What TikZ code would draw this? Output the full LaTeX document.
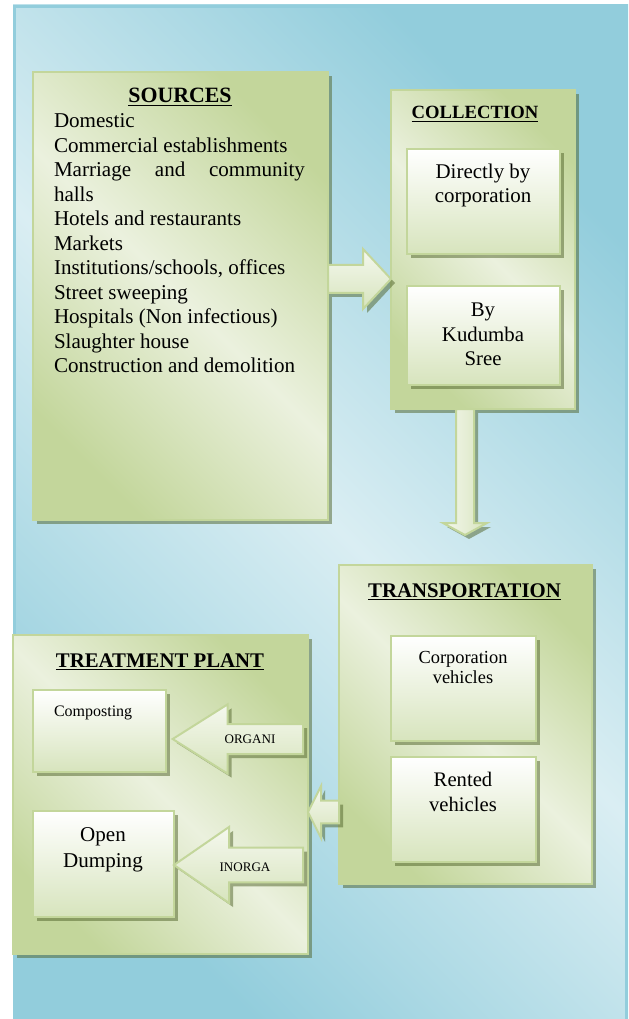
\documentclass[tikz,border=0pt]{standalone}
\usepackage{fontspec}
\setmainfont{Liberation Serif}
\usetikzlibrary{calc,shadows}

\definecolor{skylight}{HTML}{DAEEF3}
\definecolor{skydark}{HTML}{92CDDC}
\definecolor{leaflight}{HTML}{EBF1DE}
\definecolor{leafdark}{HTML}{C3D69B}
\definecolor{leafmid}{HTML}{D7E4BD}
\definecolor{leafshade}{HTML}{4F6228}

\newcommand{\ulhead}[1]{\setbox0\hbox{#1}\rlap{\rule[-2.4pt]{\wd0}{1.2pt}}\box0}

\begin{document}
\begin{tikzpicture}[
            x = 0.75pt, y = -0.75pt,
            every node/.style={inner sep=0pt, outer sep=0pt},
            shadowed/.style={drop shadow={shadow xshift=3pt, shadow yshift=-3pt, fill=leafshade, opacity=.5}},
            panel/.style={draw=leafdark, line width=1.5pt, shadowed, top color=leafdark, bottom color=leafdark, middle color=leaflight, shading angle=-45},
            card/.style={draw=leafdark, line width=1.5pt, shadowed, top color=white, bottom color=leafmid},
            flow/.style={draw=leafdark, line width=1.5pt, shadowed, top color=leaflight!50!white, bottom color=leafmid},
            fat/.style args={#1/#2/#3}{to path={let \p1=(\tikztostart), \p2=(\tikztotarget),
                \n1={atan2(\y2-\y1,\x2-\x1)}, \n2={veclen(\x2-\x1,\y2-\y1)} in
                ($(\p1)+(\n1+90:#1)$) -- ($(\p1)+(\n1:{\n2-#3})+(\n1+90:#1)$) -- ($(\p1)+(\n1:{\n2-#3})+(\n1+90:#2)$) -- (\p2)
                -- ($(\p1)+(\n1:{\n2-#3})+(\n1-90:#2)$) -- ($(\p1)+(\n1:{\n2-#3})+(\n1-90:#1)$) -- ($(\p1)+(\n1-90:#1)$) -- cycle}},
            title/.style={anchor=base, font=\fontsize{15.6}{18}\selectfont\bfseries},
            item/.style={anchor=base west, font=\fontsize{15.8}{18}\selectfont},
            txt/.style={anchor=base, align=center},
            ]

        \useasboundingbox (0,0) rectangle (628,1019);

        % background
        \shade[top color=skydark, bottom color=skydark, middle color=skylight, shading angle=-45] (13,5) rectangle (628,1019);
        \draw[skydark, line width=2.25pt] (14.5,1019) -- (14.5,6.5) -- (626.5,6.5) -- (626.5,1019);

        % panels
        \node[panel, minimum width=221.25pt, minimum height=336pt] (src) at (180.5,296) {};
        \node[panel, minimum width=138pt, minimum height=239.25pt] (col) at (483,249.5) {};
        \node[panel, minimum width=189.75pt, minimum height=239.25pt] (trn) at (465.5,724.5) {};
        \node[panel, minimum width=221.25pt, minimum height=239.25pt] (trt) at (160.5,794.5) {};

        % inner boxes
        \node[card, minimum width=114.75pt, minimum height=78.75pt] (dir) at (483.5,201.5) {};
        \node[card, minimum width=114.75pt, minimum height=74.25pt] (kud) at (483.5,335.5) {};
        \node[card, minimum width=108.75pt, minimum height=78.75pt] (cor) at (463.5,688.5) {};
        \node[card, minimum width=108.75pt, minimum height=78.75pt] (ren) at (463.5,809.5) {};
        \node[card, minimum width=99.75pt, minimum height=61.5pt] (cmp) at (99.5,731) {};
        \node[card, minimum width=105.75pt, minimum height=79.5pt] (opd) at (103.5,864) {};

        \coordinate (dn) at (465,535);
        \coordinate (org) at (303,739);
        \coordinate (inorg) at (303,865);

        % arrows
        \draw[flow, fat=10.5pt/22.5pt/21pt] (src.east |- 0,279) to (col.west |- 0,279);
        \draw[flow, fat=6.75pt/16.5pt/9pt, shading angle=90] (col.south -| dn) to (dn);
        \draw[flow, fat=8.6pt/19.5pt/9.75pt] (trn.west |- 0,812) to (trt.east |- 0,812);
        \draw[flow, fat=11.25pt/26pt/41.25pt] (org) to ([xshift=5pt]cmp.east |- org);
        \draw[flow, fat=13pt/28.5pt/41.25pt] (inorg) to (opd.east |- inorg);

        % texts
        \node[title, font=\fontsize{16.4}{18}\selectfont\bfseries] (srct) at (180,103) {\ulhead{SOURCES}};
        \foreach \t [count=\i] in {Domestic, Commercial establishments, {\makebox[188.25pt][s]{Marriage and community}}, halls,
                Hotels and restaurants, Markets, {Institutions/schools, offices}, Street sweeping,
                Hospitals (Non infectious), Slaughter house, Construction and demolition}
            \node[item] (s\i) at (54, {128+24.5*(\i-1)}) {\t};

        \node[title, font=\fontsize{14}{16}\selectfont\bfseries] (colt) at (475,119) {\ulhead{COLLECTION}};
        \node[title] (trnt) at (464.5,597) {\ulhead{TRANSPORTATION}};
        \node[title] (trtt) at (160,667) {\ulhead{TREATMENT PLANT}};

        \node[txt, font=\fontsize{15.7}{18}\selectfont] (dirt) at (483,203) {Directly by\\corporation};
        \node[txt, font=\fontsize{15.6}{18}\selectfont] (kudt) at (483,365) {By\\Kudumba\\Sree};
        \node[txt, font=\fontsize{13.8}{15}\selectfont] (cort) at (463,683) {Corporation\\vehicles};
        \node[txt, font=\fontsize{15.5}{18.75}\selectfont] (rent) at (463,811) {Rented\\vehicles};
        \node[anchor=base west, font=\fontsize{12}{14}\selectfont] (cmpt) at (54,716) {Composting};
        \node[txt, font=\fontsize{15.8}{19.5}\selectfont] (opdt) at (103,867) {Open\\Dumping};
        \node[txt, font=\fontsize{9.8}{12}\selectfont] (orgt) at (250,743) {ORGANI};
        \node[txt, font=\fontsize{9.8}{12}\selectfont] (inorgt) at (245,871) {INORGA};
    \end{tikzpicture}
\end{document}
